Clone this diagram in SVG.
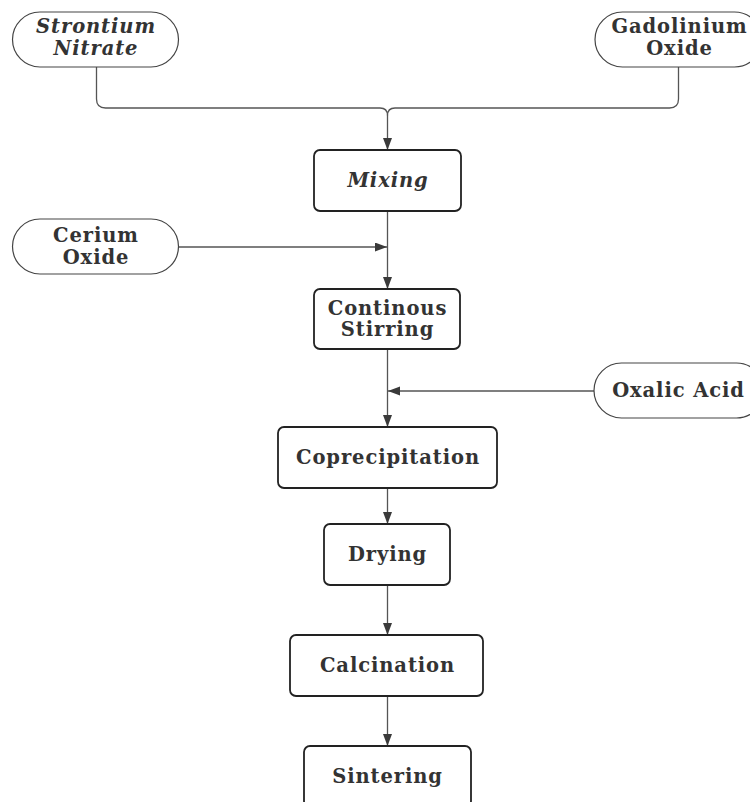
<svg xmlns="http://www.w3.org/2000/svg" width="750" height="802" viewBox="0 0 750 802">
<defs>
<marker id="arr" markerUnits="userSpaceOnUse" markerWidth="12" markerHeight="10" refX="12" refY="4.5" orient="auto">
<path d="M0,0 L12,4.5 L0,9 z" fill="#3a3a3a"/>
</marker>
</defs>
<style>
.box{fill:#fff;stroke:#222;stroke-width:1.8}
.pill{fill:#fff;stroke:#444;stroke-width:1.2}
.t{font-family:"DejaVu Serif","Liberation Serif",serif;font-weight:bold;font-size:19.5px;letter-spacing:0.9px;fill:#333;text-anchor:middle}
.it{font-style:italic}
.c{fill:none;stroke:#555;stroke-width:1.3}
</style>
<rect width="750" height="802" fill="#fff"/>
<g id="connectors">
<path class="c" d="M96.5,67 V99 Q96.5,108 105.5,108 H380 Q387.5,108 387.5,115.5"/>
<path class="c" d="M678.5,67 V99 Q678.5,108 669.5,108 H395 Q387.5,108 387.5,115.5 V150" marker-end="url(#arr)"/>
<path class="c" d="M387.5,211 V289" marker-end="url(#arr)"/>
<path class="c" d="M179,247 H387" marker-end="url(#arr)"/>
<path class="c" d="M387.5,349 V427" marker-end="url(#arr)"/>
<path class="c" d="M594,391 H388" marker-end="url(#arr)"/>
<path class="c" d="M387.5,488 V524" marker-end="url(#arr)"/>
<path class="c" d="M387.5,585 V635" marker-end="url(#arr)"/>
<path class="c" d="M387.5,696 V746" marker-end="url(#arr)"/>
</g>
<g id="strontium-nitrate">
<rect class="pill" x="12.5" y="12" width="166" height="55" rx="27.5"/>
<text class="t it" x="96" y="33">Strontium</text>
<text class="t it" x="96" y="55">Nitrate</text>
</g>
<g id="gadolinium-oxide">
<rect class="pill" x="595" y="12" width="167" height="55" rx="27.5"/>
<text class="t" x="679.5" y="33">Gadolinium</text>
<text class="t" x="679.5" y="55">Oxide</text>
</g>
<g id="mixing">
<rect class="box" x="314" y="150" width="147" height="61" rx="6"/>
<text class="t it" x="388" y="187">Mixing</text>
</g>
<g id="cerium-oxide">
<rect class="pill" x="12.5" y="219" width="166" height="55" rx="27.5"/>
<text class="t" x="96" y="242">Cerium</text>
<text class="t" x="96" y="264">Oxide</text>
</g>
<g id="continous-stirring">
<rect class="box" x="314" y="289" width="146" height="60" rx="6"/>
<text class="t" x="387.5" y="315">Continous</text>
<text class="t" x="387.5" y="336">Stirring</text>
</g>
<g id="oxalic-acid">
<rect class="pill" x="594" y="363" width="170" height="55" rx="27.5"/>
<text class="t" x="678.5" y="397">Oxalic Acid</text>
</g>
<g id="coprecipitation">
<rect class="box" x="278" y="427" width="219" height="61" rx="6"/>
<text class="t" x="388" y="464">Coprecipitation</text>
</g>
<g id="drying">
<rect class="box" x="324" y="524" width="126" height="61" rx="6"/>
<text class="t" x="387.5" y="561">Drying</text>
</g>
<g id="calcination">
<rect class="box" x="290" y="635" width="193" height="61" rx="6"/>
<text class="t" x="387.5" y="672">Calcination</text>
</g>
<g id="sintering">
<rect class="box" x="304" y="746" width="167" height="61" rx="6"/>
<text class="t" x="387.5" y="783">Sintering</text>
</g>
</svg>
